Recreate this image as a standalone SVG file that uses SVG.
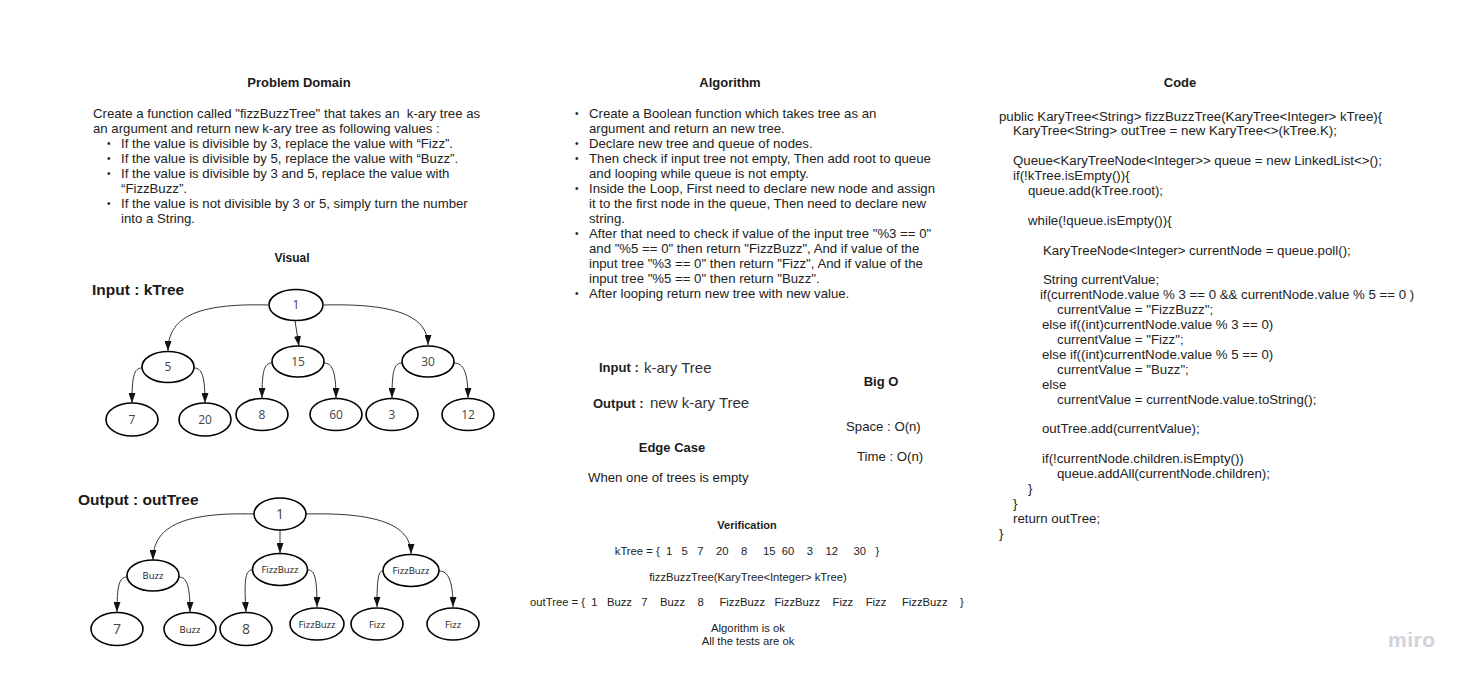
<svg xmlns="http://www.w3.org/2000/svg" width="1468" height="680" viewBox="0 0 1468 680">
<defs>
<marker id="arr" viewBox="0 0 10 7" markerWidth="10" markerHeight="7" refX="10" refY="3.5" orient="auto" markerUnits="userSpaceOnUse"><path d="M0,0 L10,3.5 L0,7 Z" fill="#111"/></marker>
<style>
text{font-family:"Liberation Sans",Arial,sans-serif;fill:#222}
.h{font-size:13px;font-weight:bold;text-anchor:middle;fill:#1a1a1a}
.t{font-size:13.2px}
.c{font-size:13.25px}
.bl{font-size:10px}
.big{font-size:15.5px;font-weight:bold;fill:#1a1a1a}
.lbl{font-size:13px;font-weight:bold}
.v{font-size:11.25px;text-anchor:middle}
.vb{font-size:11px;font-weight:bold;text-anchor:middle}
.n{font-family:"Open Sans","Noto Sans",sans-serif;font-size:12px;text-anchor:middle;fill:#444}
.nl{font-family:"Open Sans","Noto Sans",sans-serif;font-size:14px;text-anchor:middle;fill:#444}
.ns{font-family:"Open Sans","Noto Sans",sans-serif;font-size:9.5px;text-anchor:middle;fill:#1a1a1a}
ellipse{fill:#fff;stroke:#000;stroke-width:1.6}
.e path{fill:none;stroke:#333;stroke-width:1;marker-end:url(#arr)}
</style>
</defs>
<rect width="1468" height="680" fill="#fff"/>

<g id="problem-domain">
<text class="h" x="299" y="87">Problem Domain</text>
<text class="t" x="93" y="117.5" xml:space="preserve">Create a function called "fizzBuzzTree" that takes an  k-ary tree as</text>
<text class="t" x="93" y="132.5">an argument and return new k-ary tree as following values :</text>
<text class="bl" x="107" y="147">•</text><text class="t" x="121" y="147.5">If the value is divisible by 3, replace the value with “Fizz”.</text>
<text class="bl" x="107" y="162">•</text><text class="t" x="121" y="162.5">If the value is divisible by 5, replace the value with “Buzz”.</text>
<text class="bl" x="107" y="177">•</text><text class="t" x="121" y="177.5">If the value is divisible by 3 and 5, replace the value with</text>
<text class="t" x="121" y="192.5">“FizzBuzz”.</text>
<text class="bl" x="107" y="207">•</text><text class="t" x="121" y="207.5">If the value is not divisible by 3 or 5, simply turn the number</text>
<text class="t" x="121" y="222.5">into a String.</text>
</g>

<g id="visual-title"><text class="h" x="292" y="262" style="font-size:12px">Visual</text></g>
<g id="input-label"><text class="big" x="92" y="295">Input : kTree</text></g>
<g id="output-label"><text class="big" x="78" y="505">Output : outTree</text></g>

<g id="connectors" class="e">
<path d="M268,305 C195,303 168,318 168,351"/>
<path d="M295,321 L299,346"/>
<path d="M324,305 C400,303 428,318 428,345"/>
<path d="M142,368 C134,368 132,376 132,403"/>
<path d="M194,368 C202,368 205,376 205,403"/>
<path d="M272,363 C264,363 262,371 262,398"/>
<path d="M324,363 C332,363 336,371 336,398"/>
<path d="M402,363 C394,363 392,371 392,398"/>
<path d="M454,363 C463,363 468,371 468,398"/>
<path d="M254,514 C180,512 153,528 153,560"/>
<path d="M280,530 L280,553"/>
<path d="M306,514 C385,512 411,528 411,554"/>
<path d="M127,577 C119,577 117,586 117,612"/>
<path d="M179,577 C187,577 190,586 190,612"/>
<path d="M252,570 C245,570 244,582 246,612"/>
<path d="M308,570 C315,570 317,579 317,607"/>
<path d="M383,571 C378,571 377,580 377,607"/>
<path d="M439,571 C448,571 453,580 453,607"/>
</g>

<g id="in-1"><ellipse cx="296" cy="305" rx="27" ry="15.5"/><text class="n" x="296" y="309">1</text></g>
<g id="in-5"><ellipse cx="168" cy="367" rx="26" ry="15.5"/><text class="n" x="168" y="371">5</text></g>
<g id="in-15"><ellipse cx="298" cy="361.5" rx="26" ry="15.5"/><text class="n" x="298" y="365.5">15</text></g>
<g id="in-30"><ellipse cx="428" cy="361.5" rx="26" ry="15.5"/><text class="n" x="428" y="365.5">30</text></g>
<g id="in-7"><ellipse cx="132" cy="419.5" rx="26" ry="16.5"/><text class="n" x="132" y="424">7</text></g>
<g id="in-20"><ellipse cx="205" cy="419.5" rx="26" ry="16.5"/><text class="n" x="205" y="424">20</text></g>
<g id="in-8"><ellipse cx="262" cy="414.5" rx="26" ry="16"/><text class="n" x="262" y="418.5">8</text></g>
<g id="in-60"><ellipse cx="336" cy="414.5" rx="26" ry="16"/><text class="n" x="336" y="418.5">60</text></g>
<g id="in-3"><ellipse cx="392" cy="414.5" rx="26" ry="16"/><text class="n" x="392" y="418.5">3</text></g>
<g id="in-12"><ellipse cx="468" cy="414.5" rx="26" ry="16"/><text class="n" x="468" y="418.5">12</text></g>

<g id="out-1"><ellipse cx="280" cy="514" rx="26" ry="16"/><text class="nl" x="280" y="519">1</text></g>
<g id="out-buzz"><ellipse cx="153" cy="575.5" rx="26" ry="15.5"/><text class="ns" x="153" y="579">Buzz</text></g>
<g id="out-fizzbuzz-1"><ellipse cx="280" cy="569.5" rx="27.5" ry="16"/><text class="ns" x="280" y="573">FizzBuzz</text></g>
<g id="out-fizzbuzz-2"><ellipse cx="411" cy="570.5" rx="28" ry="16"/><text class="ns" x="411" y="574">FizzBuzz</text></g>
<g id="out-7"><ellipse cx="117" cy="629" rx="26" ry="16.5"/><text class="nl" x="117" y="634">7</text></g>
<g id="out-buzz-2"><ellipse cx="190" cy="629" rx="26" ry="16.5"/><text class="ns" x="190" y="632.5">Buzz</text></g>
<g id="out-8"><ellipse cx="246" cy="629" rx="26" ry="16.5"/><text class="nl" x="246" y="634">8</text></g>
<g id="out-fizzbuzz-3"><ellipse cx="317" cy="624" rx="27" ry="16"/><text class="ns" x="317" y="627.5">FizzBuzz</text></g>
<g id="out-fizz-1"><ellipse cx="377" cy="624" rx="26" ry="16"/><text class="ns" x="377" y="627.5">Fizz</text></g>
<g id="out-fizz-2"><ellipse cx="453" cy="624" rx="26" ry="16"/><text class="ns" x="453" y="627.5">Fizz</text></g>

<g id="algorithm">
<text class="h" x="730" y="87">Algorithm</text>
<text class="bl" x="575" y="117">•</text><text class="t" x="589" y="117.5">Create a Boolean function which takes tree as an</text>
<text class="t" x="589" y="132.5">argument and return an new tree.</text>
<text class="bl" x="575" y="147">•</text><text class="t" x="589" y="147.5">Declare new tree and queue of nodes.</text>
<text class="bl" x="575" y="162">•</text><text class="t" x="589" y="162.5">Then check if input tree not empty, Then add root to queue</text>
<text class="t" x="589" y="177.5">and looping while queue is not empty.</text>
<text class="bl" x="575" y="192">•</text><text class="t" x="589" y="192.5">Inside the Loop, First need to declare new node and assign</text>
<text class="t" x="589" y="207.5">it to the first node in the queue, Then need to declare new</text>
<text class="t" x="589" y="222.5">string.</text>
<text class="bl" x="575" y="237">•</text><text class="t" x="589" y="237.5">After that need to check if value of the input tree "%3 == 0"</text>
<text class="t" x="589" y="252.5">and "%5 == 0" then return "FizzBuzz", And if value of the</text>
<text class="t" x="589" y="267.5">input tree "%3 == 0" then return "Fizz", And if value of the</text>
<text class="t" x="589" y="282.5">input tree "%5 == 0" then return "Buzz".</text>
<text class="bl" x="575" y="297">•</text><text class="t" x="589" y="297.5">After looping return new tree with new value.</text>
</g>

<g id="io">
<text class="lbl" x="599" y="372">Input :</text><text x="644" y="373" style="font-size:15px;fill:#333">k-ary Tree</text>
<text class="lbl" x="593" y="408">Output :</text><text x="650" y="408" style="font-size:15px;fill:#333">new k-ary Tree</text>
</g>
<g id="big-o">
<text class="h" x="881" y="386">Big O</text>
<text class="t" x="846" y="431">Space : O(n)</text>
<text class="t" x="857" y="461">Time : O(n)</text>
</g>
<g id="edge-case">
<text class="h" x="672" y="452">Edge Case</text>
<text class="t" x="588" y="482">When one of trees is empty</text>
</g>

<g id="verification">
<text class="vb" x="747" y="529">Verification</text>
<text class="v" x="747" y="555" xml:space="preserve">kTree = {  1   5   7    20    8     15  60    3    12     30   }</text>
<text class="v" x="748" y="581">fizzBuzzTree(KaryTree&lt;Integer&gt; kTree)</text>
<text class="v" x="747" y="606" xml:space="preserve">outTree = {  1   Buzz   7    Buzz    8     FizzBuzz   FizzBuzz    Fizz    Fizz     FizzBuzz    }</text>
<text class="v" x="748" y="632">Algorithm is ok</text>
<text class="v" x="748" y="645">All the tests are ok</text>
</g>

<g id="code">
<text class="h" x="1180" y="87">Code</text>
<text class="c" x="999" y="120.5">public KaryTree&lt;String&gt; fizzBuzzTree(KaryTree&lt;Integer&gt; kTree){</text>
<text class="c" x="1013" y="135.4">KaryTree&lt;String&gt; outTree = new KaryTree&lt;&gt;(kTree.K);</text>
<text class="c" x="1013" y="165.2">Queue&lt;KaryTreeNode&lt;Integer&gt;&gt; queue = new LinkedList&lt;&gt;();</text>
<text class="c" x="1013" y="180.1">if(!kTree.isEmpty()){</text>
<text class="c" x="1028" y="195">queue.add(kTree.root);</text>
<text class="c" x="1028" y="224.8">while(!queue.isEmpty()){</text>
<text class="c" x="1043" y="254.6">KaryTreeNode&lt;Integer&gt; currentNode = queue.poll();</text>
<text class="c" x="1043" y="284.4">String currentValue;</text>
<text class="c" x="1040" y="299.3">if(currentNode.value % 3 == 0 &amp;&amp; currentNode.value % 5 == 0 )</text>
<text class="c" x="1057" y="314.2">currentValue = "FizzBuzz";</text>
<text class="c" x="1042" y="329.1">else if((int)currentNode.value % 3 == 0)</text>
<text class="c" x="1057" y="344">currentValue = "Fizz";</text>
<text class="c" x="1042" y="358.9">else if((int)currentNode.value % 5 == 0)</text>
<text class="c" x="1057" y="373.8">currentValue = "Buzz";</text>
<text class="c" x="1042" y="388.7">else</text>
<text class="c" x="1057" y="403.6">currentValue = currentNode.value.toString();</text>
<text class="c" x="1042" y="433.4">outTree.add(currentValue);</text>
<text class="c" x="1042" y="463.2">if(!currentNode.children.isEmpty())</text>
<text class="c" x="1057" y="478.1">queue.addAll(currentNode.children);</text>
<text class="c" x="1028" y="493">}</text>
<text class="c" x="1013" y="507.9">}</text>
<text class="c" x="1013" y="522.8">return outTree;</text>
<text class="c" x="999" y="537.7">}</text>
</g>

<g id="watermark"><text x="1388" y="647" style="font-size:21px;font-weight:bold;fill:#d2d2d8;letter-spacing:0.5px">miro</text></g>
</svg>
